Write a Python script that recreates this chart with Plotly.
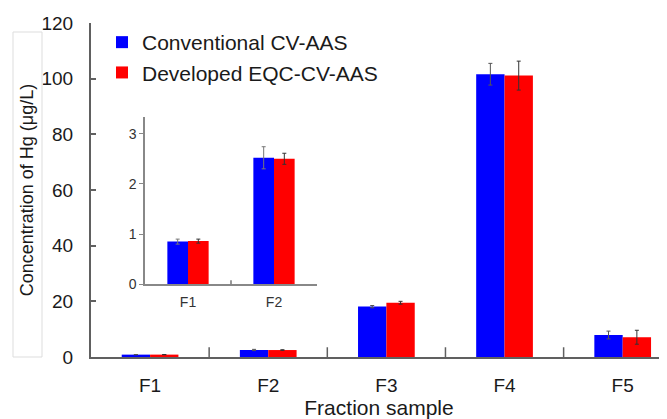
import plotly.graph_objects as go

categories = ["F1", "F2", "F3", "F4", "F5"]
conventional = [0.85, 2.52, 18.1, 101.6, 7.9]
conventional_err = [0.05, 0.22, 0.4, 3.9, 1.4]
developed = [0.86, 2.50, 19.5, 101.1, 7.1]
developed_err = [0.04, 0.11, 0.5, 5.2, 2.5]

inset_categories = ["F1", "F2"]
inset_conventional = conventional[:2]
inset_conventional_err = conventional_err[:2]
inset_developed = developed[:2]
inset_developed_err = developed_err[:2]

y_ticks = [0, 20, 40, 60, 80, 100, 120]
inset_ticks = [0, 1, 2, 3]

BLUE = "#0000FF"
RED = "#FF0000"
FONT = "Liberation Sans, Arial, sans-serif"

# page has an 8px body margin; figure sized to fit the 667x419 window
OFF = 8
W, H = 667 - OFF, 419 - OFF


def px(x):
    return (x - OFF) / W


def py(y):
    return 1 - (y - OFF) / H


fig = go.Figure()

fig.add_trace(go.Bar(
    x=categories, y=conventional, name="Conventional CV-AAS",
    marker=dict(color=BLUE, line=dict(width=0)),
    error_y=dict(type="data", array=conventional_err, color="#555555", thickness=1, width=2),
    xaxis="x", yaxis="y"))
fig.add_trace(go.Bar(
    x=categories, y=developed, name="Developed EQC-CV-AAS",
    marker=dict(color=RED, line=dict(width=0)),
    error_y=dict(type="data", array=developed_err, color="#333333", thickness=1, width=2),
    xaxis="x", yaxis="y"))

fig.add_trace(go.Bar(
    x=inset_categories, y=inset_conventional, name="Conventional CV-AAS",
    marker=dict(color=BLUE, line=dict(width=0)), showlegend=False,
    error_y=dict(type="data", array=inset_conventional_err, color="#777777", thickness=1, width=2),
    xaxis="x2", yaxis="y2"))
fig.add_trace(go.Bar(
    x=inset_categories, y=inset_developed, name="Developed EQC-CV-AAS",
    marker=dict(color=RED, line=dict(width=0)), showlegend=False,
    error_y=dict(type="data", array=inset_developed_err, color="#333333", thickness=1, width=2),
    xaxis="x2", yaxis="y2"))

fig.update_layout(
    width=W, height=H,
    margin=dict(l=0, r=0, t=0, b=0, autoexpand=False),
    paper_bgcolor="white", plot_bgcolor="white",
    barmode="group", bargap=0.52, bargroupgap=0,
    font=dict(family=FONT, color="#1a1a1a"),
    showlegend=True,
    legend=dict(x=px(102), y=py(22), xanchor="left", yanchor="top",
                bgcolor="rgba(0,0,0,0)", font=dict(size=21, family=FONT, color="#1a1a1a"),
                itemwidth=30, tracegroupgap=0),
    xaxis=dict(domain=[px(91), 1], range=[-0.5, 4.375], type="category", automargin=False,
               showline=True, linecolor="#606060", linewidth=2,
               ticks="", showgrid=False, zeroline=False,
               tickfont=dict(size=19), ticklabelstandoff=10,
               title=dict(text="Fraction sample", font=dict(size=21), standoff=8)),
    yaxis=dict(domain=[py(357), py(23)], range=[0, 120], tickvals=y_ticks, automargin=False,
               showline=True, linecolor="#606060", linewidth=2,
               ticks="inside", ticklen=5, tickcolor="#606060", tickwidth=1.5,
               showgrid=False, zeroline=False, tickfont=dict(size=19),
               ticklabelstandoff=12,
               title=dict(text="Concentration of Hg (μg/L)", font=dict(size=18), standoff=3)),
    xaxis2=dict(domain=[px(145), px(317)], range=[-0.5, 1.5], type="category", automargin=False,
                anchor="y2", showline=True, linecolor="#888888", linewidth=1.5,
                ticks="", showgrid=False, zeroline=False,
                tickfont=dict(size=14, color="#333333"), ticklabelstandoff=4),
    yaxis2=dict(domain=[py(284.3), py(117.1)], range=[0, 3.33], automargin=False,
                tickvals=inset_ticks, anchor="x2",
                showline=True, linecolor="#888888", linewidth=1.5,
                ticks="outside", ticklen=4, tickcolor="#888888",
                showgrid=False, zeroline=False, tickfont=dict(size=14, color="#333333")),
)

# category separator ticks on main x axis (between categories)
for i in range(1, 5):
    fig.add_shape(type="line", xref="x", yref="y", x0=i - 0.5, x1=i - 0.5,
                  y0=0, y1=3.5, line=dict(color="#606060", width=1.5))
# separator tick on inset x axis
fig.add_shape(type="line", xref="x2", yref="y2", x0=0.5, x1=0.5,
              y0=0, y1=0.08, line=dict(color="#555555", width=1.2))
# faint frame around the y-axis title
fig.add_shape(type="rect", xref="paper", yref="paper",
              x0=px(13), x1=px(42), y0=py(357), y1=py(32),
              line=dict(color="#dddddd", width=1))

fig.write_html("out.html")
